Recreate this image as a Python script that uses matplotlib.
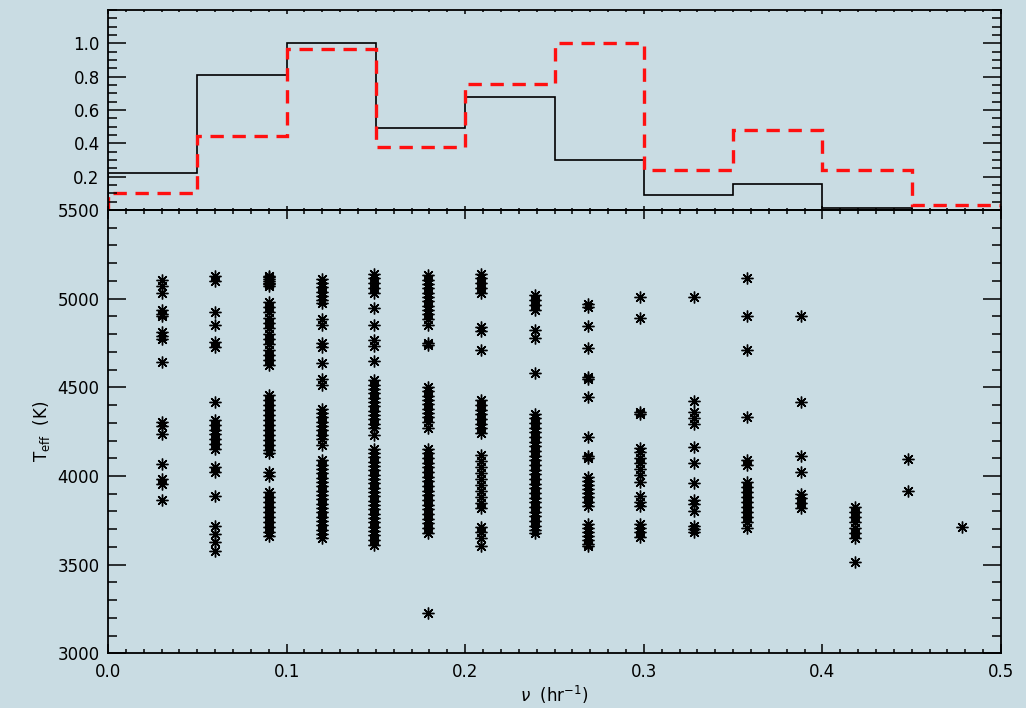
import numpy as np
import matplotlib
matplotlib.use("Agg")
import matplotlib.pyplot as plt
from matplotlib.ticker import MultipleLocator

# ---- histogram data (normalised counts per 0.05 hr^-1 bin) ----
bin_edges = [0.0, 0.05, 0.10, 0.15, 0.20, 0.25, 0.30, 0.35, 0.40, 0.45, 0.50]
hist_solid = [0.22, 0.81, 1.00, 0.49, 0.68, 0.30, 0.09, 0.154, 0.01, 0.0]
hist_dashed = [0.10, 0.444, 0.964, 0.378, 0.756, 1.00, 0.238, 0.48, 0.238, 0.028]

# ---- frequency columns and effective temperatures (K) ----
freqs = [0.030, 0.060, 0.090, 0.120, 0.149, 0.179, 0.209, 0.239,
         0.269, 0.298, 0.328, 0.358, 0.388, 0.418, 0.448, 0.478]

teff_030 = [5105, 5070, 5030, 4935, 4915, 4900, 4810, 4790, 4770, 4645,
            4305, 4280, 4235, 4070, 3985, 3955, 3865]
teff_060 = [5130, 5100, 4925, 4850, 4755, 4730, 4420, 4315, 4290, 4260,
            4235, 4210, 4180, 4150, 4050, 4025, 3885, 3720, 3675, 3625, 3575]
teff_090 = [5130, 5120, 5110, 5100, 5090, 5080, 5070,
            4981, 4951, 4923, 4893, 4863, 4833, 4803, 4773, 4742, 4712, 4682, 4654, 4628,
            4455, 4427, 4398, 4370, 4342, 4314, 4286, 4257, 4229, 4201, 4173, 4145, 4130,
            4023, 3998,
            3910, 3882, 3853, 3825, 3797, 3769, 3741, 3712, 3684, 3660]
teff_120 = [5113, 5088, 5064, 5039, 5015, 4991, 4976, 4887, 4853, 4750, 4727,
            4635, 4549, 4515,
            4380, 4355, 4331, 4306, 4282, 4258, 4233, 4209, 4177,
            4088, 4064, 4039, 4015, 3990, 3966, 3942, 3917, 3893, 3868, 3844,
            3820, 3795, 3771, 3746, 3722, 3697, 3673, 3650]
teff_150 = [5141, 5115, 5086, 5058, 5032, 4946, 4851, 4765, 4731, 4648,
            4539, 4515, 4491, 4466, 4442, 4417, 4393, 4368, 4344, 4319, 4295, 4271, 4233,
            4154, 4130, 4105, 4081, 4056, 4032, 4007, 3983, 3959, 3934, 3910, 3885,
            3861, 3836, 3812, 3788, 3763, 3739, 3714, 3690, 3665, 3641, 3613]
teff_180 = [5132, 5107, 5083, 5058, 5034, 5009, 4985, 4961, 4936, 4912, 4887, 4853,
            4752, 4740,
            4502, 4477, 4453, 4429, 4404, 4380, 4355, 4331, 4306, 4271,
            4154, 4128, 4101, 4075, 4049, 4023, 3996, 3970, 3944, 3917, 3891,
            3865, 3838, 3812, 3786, 3759, 3733, 3705, 3679, 3225]
teff_210 = [5141, 5115, 5086, 5058, 5032, 4840, 4816, 4711,
            4427, 4400, 4374, 4348, 4321, 4295, 4269, 4242,
            4117, 4083, 4049, 4015, 3981, 3947, 3914, 3880, 3846, 3820,
            3712, 3682, 3652, 3603]
teff_240 = [5019, 4992, 4964, 4938, 4821, 4778, 4579,
            4352, 4325, 4299, 4273, 4246, 4220, 4194, 4167, 4141, 4115, 4088, 4062,
            4036, 4009, 3983, 3957, 3930, 3904, 3878, 3852, 3825, 3799, 3773, 3746,
            3720, 3694, 3679]
teff_270 = [4972, 4953, 4848, 4720, 4558, 4547, 4447, 4222, 4110, 4100,
            3994, 3972, 3949, 3927, 3904, 3882, 3855, 3829,
            3731, 3709, 3686, 3663, 3641, 3618, 3603]
teff_300 = [5011, 4889, 4363, 4348, 4160, 4133, 4103, 4073, 4039, 4006, 3968,
            3889, 3855, 3833, 3727, 3705, 3682, 3658]
teff_330 = [5011, 4425, 4359, 4329, 4291, 4162, 4071, 3959, 3865, 3840, 3803,
            3720, 3701, 3682]
teff_360 = [5115, 4904, 4711, 4331, 4092, 4062, 3966, 3940, 3912, 3883, 3855,
            3827, 3799, 3771, 3742, 3707]
teff_390 = [4905, 4420, 4115, 4020, 3900, 3875, 3845, 3820]
teff_420 = [3825, 3797, 3769, 3739, 3709, 3680, 3650, 3517]
teff_450 = [4095, 3917]
teff_480 = [3714]

teff_columns = [teff_030, teff_060, teff_090, teff_120, teff_150, teff_180,
                teff_210, teff_240, teff_270, teff_300, teff_330, teff_360,
                teff_390, teff_420, teff_450, teff_480]

xticks = [0.0, 0.1, 0.2, 0.3, 0.4, 0.5]
hist_yticks = [0.2, 0.4, 0.6, 0.8, 1.0]
teff_yticks = [3000, 3500, 4000, 4500, 5000, 5500]

# ---- figure ----
bg = "#c9dce3"
W, H = 1026, 708
fig = plt.figure(figsize=(W / 100, H / 100), dpi=100, facecolor=bg)
plt.rcParams["font.family"] = ["DejaVu Sans"]
plt.rcParams["mathtext.fontset"] = "dejavusans"

left, right = 108 / W, 1001 / W
ax_h = fig.add_axes([left, 1 - 210 / H, right - left, 200 / H], facecolor="none")
ax_s = fig.add_axes([left, 1 - 653.3 / H, right - left, 443.3 / H], facecolor="none")

for ax in (ax_h, ax_s):
    for sp in ax.spines.values():
        sp.set_linewidth(1.3)
        sp.set_color("black")

# histogram panel
ax_h.stairs(hist_solid, bin_edges, baseline=0, color="black", lw=1.2)
ax_h.stairs(hist_dashed, bin_edges, baseline=0, color="#ff1010", lw=2.4,
            linestyle=(0, (4.0, 2.6)))
ax_h.set_xlim(0, 0.5)
ax_h.set_ylim(0, 1.2)
ax_h.set_xticks(xticks)
ax_h.xaxis.set_minor_locator(MultipleLocator(0.01))
ax_h.set_yticks(hist_yticks)
ax_h.set_yticklabels([f"{v:.1f}" for v in hist_yticks])
ax_h.yaxis.set_minor_locator(MultipleLocator(0.05))
ax_h.tick_params(axis="x", which="both", direction="in", top=True, bottom=True,
                 labelbottom=False, width=1.1)
ax_h.tick_params(axis="x", which="major", length=3.0)
ax_h.tick_params(axis="x", which="minor", length=1.5)
ax_h.tick_params(axis="y", which="both", direction="in", left=True, right=True,
                 width=1.1, labelsize=12, pad=6)
ax_h.tick_params(axis="y", which="major", length=13)
ax_h.tick_params(axis="y", which="minor", length=6.5)

# scatter panel
for f, temps in zip(freqs, teff_columns):
    ax_s.plot(np.full(len(temps), f), temps, ls="none", marker=(8, 2, 0),
              ms=8.5, mew=1.0, color="black")
ax_s.set_xlim(0, 0.5)
ax_s.set_ylim(3000, 5500)
ax_s.set_xticks(xticks)
ax_s.set_xticklabels([f"{v:.1f}" for v in xticks])
ax_s.xaxis.set_minor_locator(MultipleLocator(0.01))
ax_s.set_yticks(teff_yticks)
ax_s.yaxis.set_minor_locator(MultipleLocator(100))
ax_s.tick_params(axis="x", which="both", direction="in", top=True, bottom=True,
                 width=1.1, labelsize=12, pad=7)
ax_s.tick_params(axis="x", which="major", length=6.4)
ax_s.tick_params(axis="x", which="minor", length=3.2)
ax_s.tick_params(axis="y", which="both", direction="in", left=True, right=True,
                 width=1.1, labelsize=12, pad=6)
ax_s.tick_params(axis="y", which="major", length=13)
ax_s.tick_params(axis="y", which="minor", length=6.5)

ax_s.set_xlabel(r"$\nu$  (hr$^{-1}$)", fontsize=12, labelpad=2)
ax_s.set_ylabel(r"T$_{\rm eff}$  (K)", fontsize=12, labelpad=4)

fig.savefig("out.png", dpi=100, facecolor=bg)
